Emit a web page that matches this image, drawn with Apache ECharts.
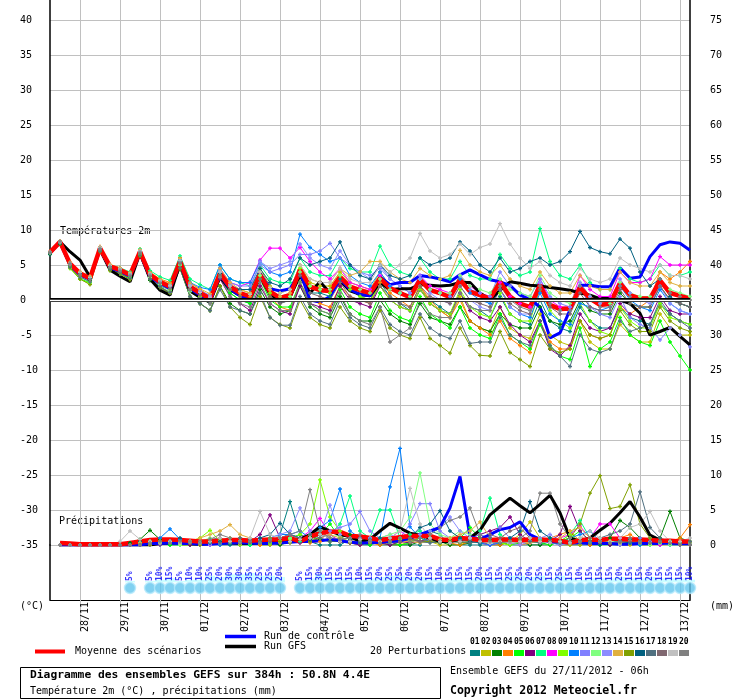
<!DOCTYPE html>
<html>
<head>
<meta charset="utf-8">
<script src="https://cdn.jsdelivr.net/npm/echarts@6/dist/echarts.min.js"></script>
<style>
  html, body { margin: 0; padding: 0; background: #fff; }
  #chart { width: 740px; height: 700px; }
</style>
</head>
<body>
<div id="chart"></div>
<script>
// pas de 6h depuis le 27/11 06h, 65 échéances
var dateLabels = ['28/11','29/11','30/11','01/12','02/12','03/12','04/12','05/12',
  '06/12','07/12','08/12','09/12','10/12','11/12','12/12','13/12'];

// températures 2m (°C)
var tempMean = [6.8,8.3,5.2,3.8,3.1,7.4,4.8,4.3,3.6,6.9, 3.6,2.6,1.9,5.5,1.9,1.0,0.2,3.8,1.9,1.0,
  0.5,3.6,1.2,0.3,0.7,4.3,1.9,1.4,1.3,3.3, 1.9,1.4,1.0,3.1,1.7,1.0,0.4,2.9,1.4,1.0,
  0.4,2.9,1.2,0.7,0.2,2.6,0.5,-0.5,-1.0,2.1, -0.7,-1.3,-1.2,1.8,0.2,-0.7,-0.5,2.4,0.7,0.2,
  0.2,2.8,1.0,0.6,0.2];
var tempControl = [6.8,8.2,5.0,3.6,3.0,7.2,4.6,4.1,3.4,6.7, 3.3,2.4,1.6,5.3,1.6,0.7,-0.2,3.6,1.6,0.6,
  0.1,3.8,1.6,1.3,1.6,4.0,0.0,-0.3,0.5,3.0, 1.5,0.8,0.6,3.3,2.2,2.5,2.5,3.5,3.3,3.0,
  2.6,3.6,4.3,3.6,2.9,2.6,2.1,0.7,0.1,-1.0, -5.4,-4.7,-1.4,2.1,2.1,1.9,1.9,4.6,3.1,3.3,
  6.2,7.9,8.3,8.1,7.1];
var tempGfs = [6.8,8.3,6.9,5.7,3.3,7.2,4.3,3.4,2.6,6.7, 3.0,1.4,0.7,5.2,1.3,0.4,-0.3,3.3,1.5,0.6,
  0.2,3.3,0.9,-0.2,0.5,3.5,1.0,2.6,1.0,2.8, 1.3,0.8,0.6,2.5,1.5,1.6,1.6,2.2,2.1,2.0,
  2.1,2.5,2.5,1.0,0.0,1.4,2.6,2.4,2.1,2.0, 1.8,1.6,1.4,1.0,0.7,0.2,0.2,0.0,-0.5,-1.9,
  -5.0,-4.5,-3.9,-5.2,-6.4];

var t01 = [6.5,8,4.8,3.5,2.8,7,4.5,4,3.2,6.5, 3.2,2,1.5,5,1.5,0.5,-0.5,3,1,0, -0.5,3,0.5,-0.5,0,3.5,1,1,0.5,3,
  1.5,0.5,0,2.5,0.5,-0.5,-1.5,1.5,0,-1, -2,1,-1,-1.5,-2.5,0.5,-2,-3,-3.5,0, -3,-4,-4.5,-1,-3,-4,-4,-1,-2.5,-3, -3.5,-0.5,-2,-3,-3.5];
var t02 = [6.8,8.2,5,3.5,3,7.5,5,4.5,3.8,7, 3.8,2.8,2,6,2.5,1.5,0.5,4,2,1.5, 1,4.5,2,1,1.5,5,2.5,2,2,4,
  2.5,2,1.5,4,2,1,0,2,-0.5,-1.5, -2.5,0.5,-3,-4,-4.5,-1,-4,-5,-5.5,-2, -5,-6,-6.5,-3,-6,-7,-7,-3.5,-5,-6, -6,-2,-4,-5,-5];
var t03 = [6.6,8,5,3.6,2.8,7,4.3,3.8,3,6.3, 2.8,1.8,1,4.5,0.5,-0.5,-1.5,2,-0.5,-1.5, -2,1.5,-1,-2,-1.5,2,-1,-2,-2.5,0.5,
  -2,-3,-3,0,-2,-3,-3.5,-0.5,-2.5,-3, -3.5,-1,-3,-4,-4.5,-2,-3.5,-4,-4,-1, -3,-3.5,-3,0,-1.5,-2,-2,1,-0.5,-1, -1,2,0,-0.5,-1];
var t04 = [6.9,8.4,5.3,4,3.3,7.6,5,4.5,3.8,7.2, 4,3,2.5,6,2.5,1.5,0.5,4,2,1, 0.5,3.5,0.5,-1,-1.5,2.5,0,-0.5,-1,2,
  0.5,0,-0.5,2.5,1,0,-1,2,0,-1.5, -2.5,0,-3,-4,-5,-3,-5.5,-6.5,-7.5,-3, -6,-7,-7,-3,-5,-5.5,-5,-1,-2,-1, 0,4,3,4,5.5];
var t05 = [6.7,8.2,4.8,3,2.5,7,4.5,3.8,3.2,6.5, 3.5,2.5,1.5,5,1.5,0.5,0,3.5,1,0, -0.5,3,0,-1,-1,2.5,-0.5,-1.5,-2,1.5,
  -1,-2,-2.5,1,-1.5,-2.5,-3,0.5,-2,-3, -4,-1,-4,-5,-5.5,-2,-5,-6,-7,-3.5, -6.5,-8,-8.5,-4,-9.5,-7,-6,-2.5,-5,-6, -6.5,-3,-6,-8,-10];
var t06 = [6.8,8.3,5.2,3.8,3,7.2,4.8,4.2,3.5,6.8, 3.5,2.5,1.8,5.3,1.5,0.5,-0.5,3,0.5,-0.5, -1.5,2,-0.5,-1.5,-2,2,-0.5,-1,-1.5,2,
  0,-0.5,-1,2,0,-1,-1.5,1.5,-0.5,-1.5, -2,1,-1.5,-2.5,-3,-1,-3.5,-5,-6,-3, -7,-8,-6.5,-2,-4,-4.5,-4,-0.5,-2,-2.5, -2.5,0.5,-1.5,-2,-2];
var t07 = [6.8,8.3,5.3,4,3.3,7.5,5,4.6,4,7.3, 4.2,3.3,2.8,6.3,3,2.2,1.5,5,3,2.5, 2,5,3,2.5,2.5,6,4,3.5,3.5,6,
  4.5,4,4,7.7,5,4,3.5,6,4,3, 3,5.5,3.5,3,3,6.5,4.5,3.5,4,10.2, 5.5,3.5,3,5,2.5,1.5,1.5,4.5,3,2.5, 3,5,3.5,3.5,4];
var t08 = [6.8,8.3,5.3,4,3.2,7.5,5,4.5,3.8,7, 3.8,2.8,2,5.8,2,1.2,0.5,4.5,2.5,2, 2.5,5.7,7.4,7.4,6,7.5,5.5,4,3,4.5,
  2.5,2,1.5,3.5,2,1,0.5,3.5,2,1.5, 1,3.5,2,1,0.5,2.5,0.5,-0.5,-1,3, 0,-1,-1,3.5,1.5,0.5,0.5,4,2.5,2.5, 3,6.2,5,5,5];
var t09 = [6.7,8.1,4.5,3,2.3,7,4.2,3.8,3,6.5, 3.5,2.5,1.5,5.2,1.5,0.5,0,3.8,1.5,0.5, 0,3.5,1,0,0.5,4.5,2,1.5,1,3.5,
  1.5,0.5,0,2,0,-1,-1.5,1.5,-0.5,-1.5, -2,1.5,-1,-2,-2.5,1,-2,-3,-3,1.5, -1.5,-3,-4,-0.5,-3,-4.5,-5,-1,-3,-4, -4,-0.5,-2.5,-3,-3.5];
var t10 = [6.8,8.3,5.2,3.8,3.2,7.4,4.8,4.4,3.8,7.1, 3.8,2.8,2.2,5.8,2.5,1.8,1.5,5,3,2.5, 2.5,5.5,4,3.5,4,9.4,7.5,6.5,5.5,6,
  3.5,2.5,2,4,2,1,0.5,3,1.5,1, 0.5,3,1,0,-0.5,1.5,-1,-2,-2.5,1, -2,-3,-3.5,-0.5,-1,-1.5,-1,2,0,-1, -1.5,1.5,-0.5,-1.5,-2];
var t11 = [6.8,8.3,5.2,3.9,3.2,7.5,4.9,4.4,3.7,7, 3.7,2.8,2.1,5.7,2.2,1.3,0.7,4.3,2.5,2, 2,5,4,4.5,5,6.5,6.5,7,8.1,6,
  5,4,3.5,4.5,3,2,1,3.5,1.5,1, 0.5,3.5,1.5,1,0.5,4,2,1,0.5,3, 0.5,-0.5,-1,2,-1,-2,-2.5,0.5,-2.5,-3.5, -4,-5.7,-4,-5,-6.7];
var t12 = [6.7,8.2,4.6,3.2,2.6,7.3,4.7,4.2,3.4,6.7, 3.2,2.2,1.3,5,1.2,0.2,-0.5,3.5,1.5,0.5, 0,3.5,1.5,0.5,0.5,4,2,1.5,1.5,3.5,
  2,1.5,1,3,1.5,1,0.5,3,1.5,1, 1,3.5,2,1.5,1,3,1.5,1,0.5,3.5, 1,0,-0.5,2.5,0.5,-0.5,-0.5,2.5,1,0.5, 0.5,3,1.5,1,0.5];
var t13 = [6.8,8.3,5.1,3.8,3.1,7.4,4.8,4.3,3.6,6.9, 3.6,2.7,2,5.6,2,1.1,0.3,4,2.2,1.5, 1.5,5.5,4.5,5,5.5,8,6,5,4.5,7,
  5,4,3,5,3,2,1,3,1,0, -0.5,2,0,-1,-1.5,1.5,-1,-2,-2,2.5, -0.5,-1.5,-1.5,2.5,0.5,-0.5,0,3,1,0, -0.5,2,-0.5,-1.5,-2];
var t14 = [6.9,8.4,5.4,4.1,3.4,7.6,5.1,4.6,3.9,7.2, 3.9,2.9,2.3,5.9,2.4,1.6,0.9,4.5,2.5,1.5, 1,4,1.5,0.5,1,5,3,2.5,2.5,4.5,
  3.5,4,5.5,5.5,4,3,2.5,4.5,3.5,3, 3.5,7.1,5,4,3.5,5,3,2,1.5,4, 2,1,1,3.5,2,1.5,1.5,4,2.5,2, 2,4,2.5,2,2];
var t15 = [6.7,8.1,4.6,3,2.2,6.9,4.2,3.8,2.9,6.3, 3,1.8,1,4.5,0.5,-0.5,-1.5,2,-1,-2.5, -3.5,0.5,-2.5,-3.5,-4,0,-2.5,-3.5,-4,-1,
  -3,-4,-4.5,-1.5,-4,-5,-5.5,-2.5,-5.5,-6.5, -7.6,-4,-6.5,-7.9,-8,-4.5,-7.5,-8.5,-9.5,-5, -7,-7.5,-7,-3,-5,-5.5,-5,-1.5,-3.5,-4.5, -4.5,-1,-3,-4,-4.5];
var t16 = [6.8,8.3,5.2,3.8,3.1,7.4,4.8,4.3,3.6,6.9, 3.6,2.6,1.9,5.5,1.9,1,0.2,3.8,2,1.5, 1.5,4.5,2.5,2,3,6,5,5.5,6,8.3,
  5,3.5,3,5,3.5,3,3.5,6,5,5.5, 6,8.3,7,5,4,6,4,4.5,5.5,6, 5,5.5,6.9,9.8,7.5,6.9,6.6,8.7,7.4,4, 2,3,0.5,-0.5,-1];
var t17 = [6.7,8.1,4.7,3.3,2.6,7,4.4,3.9,3.1,6.4, 3,1.9,1.1,4.6,0.5,-0.5,-1.5,1.5,-1,-1.5, -2,1,-2.5,-3.6,-3.6,0.5,-2,-3,-3.5,0,
  -2.5,-3.5,-4,-1,-3.5,-4.5,-5,-2,-4,-5, -5.5,-3,-6.2,-6,-6,-2.5,-5,-6,-6.5,-3, -6.5,-8,-9.5,-5,-7,-7.5,-7,-3,-4.5,-4, -3.5,0,-2,-3,-4];
var t18 = [6.8,8.2,5,3.6,2.9,7.2,4.6,4.1,3.4,6.7, 3.4,2.4,1.7,5.2,1.6,0.7,0,3.5,1.5,0.5, 0,3,0.5,-0.5,0,3.5,1,0.5,0,2.5,
  0.5,0,-0.5,2,0.5,-0.5,-1,2,0.5,0, -0.5,2,0,-0.5,-1,1.5,-0.5,-1.5,-2,1.5, -1,-2,-2,1,-1,-1.5,-1.5,1.5,-0.5,-1, -1,2,0,-0.5,-1];
var t19 = [6.8,8.3,5.2,3.9,3.2,7.5,4.9,4.4,3.7,7, 3.7,2.7,2,5.6,2,1.1,0.4,4,2,1.2, 0.8,4,1.8,1,1.5,5,3,2.5,2.5,4.5,
  3,2.5,2.5,5,4,5,6,9.5,7,6, 6.5,8,6.5,7.5,8,10.9,8,6,4.5,5.5, 3.5,2.5,2,4.5,3,2.5,3,6,5,4.5, 4,5,3.5,3.5,3];
var t20 = [6.8,8.4,5.2,3.6,2.9,7.3,4.7,4.2,3.5,6.8, 3.5,2.4,1.6,5.3,1.4,0.3,-0.5,3.2,0.5,-0.5, -1,2.5,-0.5,-1.5,-1.5,2.5,-0.5,-1.5,-2,1,
  -2,-3,-3.5,-1,-6,-5,-4,0,-2,-2.5, -2.5,1,-1,-1.5,-1.5,2,0,-1,-1.5,2, -0.5,-1.5,-1.5,2,0,-1,-1,2,0.5,0, 0,3,1,0.5,0];

// précipitations (mm / 6h)
var precMean = [null,0.3,0.2,0.1,0.1,0.1,0.1,0.1,0.3,0.5, 0.7,0.8,0.8,0.7,0.6,0.5,0.5,0.6,0.7,0.7,
  0.6,0.7,0.8,0.8,1,0.5,1.2,1.7,1.9,1.9, 1.3,1.2,1,0.7,0.9,1.1,1.3,1.3,1.3,0.8,
  0.7,1,0.9,0.7,0.7,0.8,0.8,0.7,0.8,0.8, 0.7,0.6,0.3,0.7,0.8,0.7,0.9,0.9,0.8,0.8, 0.7,0.6,0.6,0.5,0.5];
var precControl = [null,0,0,0,0,0,0,0,0,0, 0.2,0.2,0.3,0.2,0.2,0.1,0.1,0.2,0.3,0.3,
  0.3,0.2,0.2,0.3,0.4,0.5,0.5,0.6,0.8,0.6, 0.4,0.3,0.3,0.4,0.5,0.6,1,1.5,2,2.5,
  5.3,9.8,1.2,0.8,1.5,2.2,2.5,3.3,1.5,0.8, 0.5,0.4,0.3,0.3,0.2,0.2,0.2,0.1,0.1,0.2, 0.2,0.2,0.3,0.2,0.2];
var precGfs = [null,0,0,0,0,0,0,0,0,0, 0,0.2,0.3,0.3,0.2,0.1,0.2,0.3,0.3,0.2,
  0.2,0.3,0.3,0.5,0.5,0.8,1.5,2.6,2,1.5, 1.2,0.5,0.8,2,3.1,2.4,1.7,1.4,1,0.5,
  0.5,0.8,1,2.1,4.3,5.5,6.7,5.6,4.6,5.8, 7.1,4.6,1,0.5,1,2.1,3.1,4.6,6.2,4, 1.4,0.7,0.3,0.3,0.3];

var p01 = [null,0,0,0,0,0,0,0,0.3,0.5, 0.5,0.3,0,0,0,0,0.5,0,0,0, 0.8,0,0,1.5,6.2,1.5,0.5,0,0,0, 0.8,0,0,1,0,0,0,0,2,1.5, 0,0,0,0,0,0.5,0,0,0,0, 0.5,0,0,0,0,1,0,0,0.8,0, 0,0.5,0,0,0];
var p02 = [null,0,0,0,0,0,0,0,0,0.3, 0.5,0.5,0.3,0,0,0,0,0.5,1,0.5, 0.3,0,0,0.5,1,0.8,0.5,1.5,1,0.5, 0.3,0,0.5,0.5,0,0,0.5,1,0.5,0, 0,0,0.5,1,0.5,0,0.5,1.5,3.3,1, 0.5,0,0,0,0.5,1,0.5,0,0,0.5, 0,0,0,0.3,0];
var p03 = [null,0,0,0,0,0,0,0,0.3,0.8, 2.1,0.8,0.5,0.3,0,0,0.3,0.5,0.5,0.3, 0,0.5,0.3,0,0.5,1,1.2,0.8,0.5,1, 1.5,0.8,0.5,0,0,0,0,0.5,1,0.5, 0,0,0.3,0.5,0,0,0.5,0.5,0,0, 0,0.5,1,0.5,0,0,1,3.5,2.5,1, 0.5,1,4.8,1,0.5];
var p04 = [null,0,0,0,0,0,0,0,0,0, 0.3,0.5,0.3,0,0,0.5,0.3,0,0.5,1, 0.5,0,0.3,0.5,1,0.8,0.3,0.5,1,0.5, 0.3,0.5,0.3,0,0.5,0.3,0.8,1,1.5,0.5, 0.3,0,0.5,0.3,0,0,0.5,0,0.3,0.5, 1,1.5,2,0.5,0,0.3,0.5,1,1.5,0.5, 0.3,0,0.5,1,2.9];
var p05 = [null,0,0,0,0,0,0,0,0,0.3, 0.5,0.3,0,0,0,0,0.3,0.5,0.3,0, 0,0.3,0.5,0.5,1,1.5,1,1.5,3,1, 0.5,0.3,0,0.5,0.5,0,0.3,1,0.5,0.3, 0.5,1,2.5,1,0.5,0.3,0,0.3,0.5,0.3, 0,0.5,1,2,0.5,0,0,0.3,0.5,0.3, 0,0.3,0.5,0,0];
var p06 = [null,0,0,0,0,0,0,0,0,0, 0.3,0.3,0.5,0.3,0,0,0.3,0.5,0.5,0.3, 0.5,1.5,4.3,1,0.5,0.3,0.5,1,1.5,0.5, 0.3,0,0.5,0.3,0,0.5,0.3,0.5,1,0.5, 0.3,0.5,1,1.5,2,2.5,4,1.5,0.5,0.3, 0.5,1.5,5.5,2,0.5,0.3,0,0.5,0.3,0, 0,0.3,0,0,0];
var p07 = [null,0,0,0,0,0,0,0,0,0, 0,0.3,0.5,0.3,0.3,0,0,0.3,0.5,0.3, 0,0.5,0.3,0.5,1,0.5,1,2,1.5,3, 7,2,1,5,5,1,1.5,2,1,0.5, 0.3,0.5,1,2,6.7,1.5,0.5,0.3,0.5,0.8, 1,0.5,1.5,3.5,1,0.5,0.3,0.5,0.3,0, 0.3,0,0.5,0,0.3];
var p08 = [null,0,0,0,0,0,0,0,0,0, 0,0,0.3,0.5,0.3,0,0,0.3,0.3,0, 0.3,0.5,0.5,1,1.5,1,2,3.8,1.5,0.5, 0.5,1,0.8,0.5,1,2,1,0.5,0.5,0.3, 0.5,0.3,0.5,0.3,0,0.3,0.5,0.3,0.5,0.3, 0.5,1,1.5,2.7,1,3,3,1,0.5,0.3, 0.3,0,0.3,0,0];
var p09 = [null,0,0,0,0,0,0,0,0,0, 0.3,0.5,0.3,0,0.5,1,2.1,0.5,0.3,0, 0.3,0.5,0.3,0.5,0.8,1.5,3,9.3,4,2, 1,0.5,0.5,0.3,0.5,0.8,0.5,1,0.5,0.3, 0.5,0.3,0.5,0.3,0.5,0.3,0,0.5,1,0.5, 0.3,0.5,1.5,0.5,0.3,0,0.3,0.5,0.3,0, 0,0.3,0,0.3,0];
var p10 = [null,0,0,0,0,0,0,0,0,0.3, 0.5,1,2.3,0.8,0.3,0.5,0.3,0,0.3,0.5, 0.3,0.5,1,1.5,1.5,2,1,2.5,3.5,8, 2,1,0.5,1,8.3,13.8,2.6,1,0.5,0.3, 0.5,0.8,0.5,0.3,0,0.3,0.5,1,0.5,0.3, 0.5,0.3,1,1.5,2,0.5,0.3,0.5,0.3,0, 0.3,0.5,0,0,0.3];
var p11 = [null,0,0,0,0,0,0,0,0,0, 0,0.3,0.5,0.3,0.5,0.3,0,0.3,0.5,0.5, 0.3,0.5,0.8,1,1.5,1,1.5,1,2,2.5, 3,4.8,2,1,1.5,1,3,5.9,5.9,2, 1,0.5,1,1.5,1,2.5,1,0.5,0.3,0.5, 0.3,0,0.3,0.5,1,0.5,0.3,0.3,0.5,1, 0.5,0.3,0.5,0.3,0];
var p12 = [null,0,0,0,0,0,0,0,0,0, 0.3,0.5,0.3,0,0.3,0.5,1,0.5,0.3,0.5, 0.5,0.3,0.5,0.5,1,1,1.5,2,1,1.5, 1,0.5,0.5,1,1.5,2,4,10.3,3,1.5, 1,2,1.5,0.5,0.5,0.3,0.5,0.8,0.5,0.3, 0.5,0.3,0.5,1,0.8,0.5,0.5,0.3,0.5,0.3, 0,0.3,0,0,0];
var p13 = [null,0,0,0,0,0,0,0,0,0, 0.3,0.3,0.5,0.5,0.3,0,0.3,0.5,0.5,0.3, 0.5,0.8,1,1.5,2,5.3,2,1.5,5.7,1.5, 1,0.5,1,0.5,0.5,1,1,1.5,2,2.5, 4,2,1,0.5,0.3,0.5,0.3,0,0.5,1, 1.5,0.5,0.3,0.5,1,0.5,0.3,0,0.3,0.5, 1,0.5,0.3,0,0];
var p14 = [null,0,0,0,0,0,0,0,0,0.3, 0.5,0.3,0.5,0.3,0.5,1,1.5,2,2.9,1.5, 1,0.5,0.5,0.3,0.5,1,0.5,1,1.5,1, 0.5,0.3,0.5,0.5,1,0.5,0.5,0.3,0.5,0.8, 1,1.5,2,3.3,1,0.5,0.3,0.5,0.3,0.5, 0.5,1,2,2.5,1,0.5,0.3,0.3,0.5,0.5, 0.3,0.5,0.3,0.5,0.3];
var p15 = [null,0,0,0,0,0,0,0,0,0, 0,0.3,0.3,0.5,0.3,0,0.5,0.8,0.5,0.3, 0.3,0.5,1,0.5,0.3,1,0.5,1,0.5,0.5, 0.3,0.5,0.3,0.5,0.5,1,0.8,0.5,0.5,0.3, 0.5,0.3,0.5,1,0.5,0.3,0.5,0.8,1,0.5, 0.3,0.5,1,3,7.4,9.9,5.2,5.5,8.6,3, 1,0.5,0.5,0.3,0.5];
var p16 = [null,0,0,0,0,0,0,0,0,0, 0.3,0.5,0.5,1,0.5,0.3,0.3,0.5,0.3,0.5, 0.5,1,1.5,3.1,1.5,1,0.8,1.5,1,0.5, 0.5,0.3,0.5,1,1,0.5,1,2.5,3,4.9, 2,1,0.5,0.3,0.5,0.3,1,2,6.2,2, 1,0.5,0.3,0.5,0.3,0,0.3,0.5,0.3,0.5, 0.3,0.5,0.3,0,0];
var p17 = [null,0,0,0,0,0,0,0,0,0, 0.3,0,0.3,0.5,0.3,0.3,0.5,0.3,0.5,1, 0.8,0.5,0.5,1,1.5,1,1.5,1,0.5,0.8, 1,0.5,0.8,0.5,0.3,0.5,1,0.5,0.3,0.5, 0.3,0.5,0.3,0.5,1,0.5,0.3,0.5,0.5,0.3, 0.5,0.3,0.5,0.3,0.5,1,1.5,2,3,7.6, 2.5,1,0.5,0.3,0.5];
var p18 = [null,0,0,0,0,0,0,0,0,0, 0.3,0.5,0.3,0.5,0.3,0.5,0.8,1,0.5,0.3, 0.5,0.3,0.5,1,1.5,0.8,1,1.5,1,0.5, 0.5,1,0.5,0.3,0.5,0.5,1,0.5,0.8,0.5, 0.3,0.5,0.8,1,1.5,1,2,2.5,1,0.5, 0.3,0.5,0.3,0.5,1,0.5,0.3,0.5,0.5,0.3, 0.3,0.5,0.3,0,0];
var p19 = [null,0,0,0,0,0,0,0.5,2,0.8, 0.5,0.3,0.5,0.3,0.5,0.3,0.5,1,0.5,0.5, 1,4.8,1.5,1,0.5,0.8,1,1.5,1,0.5, 0.5,0.8,0.5,0.5,1,2,8.1,3,1,0.5, 0.3,0.5,1,0.5,0.3,0.5,0.3,0.5,1,0.5, 0.3,0.5,0.3,1,2,1,0.5,1,2.5,3, 4.8,2,0.5,0.5,1];
var p20 = [null,0,0,0,0,0,0,0,0,0, 0.3,0.5,0.3,0.5,0.5,0.3,0.8,1.5,1,0.5, 0.5,0.3,0.8,1,1.5,2,7.9,2,1,0.8, 1,1.5,0.5,0.3,0.5,1,0.5,1,1.5,2.5, 3.5,4,5.3,1.5,0.5,0.3,0.5,1,2,7.4, 7.4,3,1,0.5,0.3,0.5,0.3,0.5,1,0.5, 0.3,0.5,0.3,0,0];

// probabilité de précipitations (%)
var rainProb = [null,null,null,null,null,null,null,null,5,null, 5,10,15,5,10,10,25,20,30,30,
  35,25,25,20,null,5,15,30,15,15, 15,10,15,20,25,25,20,20,15,10,
  15,15,15,20,15,15,25,25,20,25, 15,25,15,10,15,15,15,20,15,15, 20,15,15,15,10];

var memberNames = ['01','02','03','04','05','06','07','08','09','10',
  '11','12','13','14','15','16','17','18','19','20'];
var memberColors = ['#008080','#c0c000','#008000','#ff8000','#00ff00','#800080','#00ff80','#ff00ff','#80ff00','#0080ff',
  '#8080ff','#80ff80','#8c8cff','#e0b040','#80a000','#006080','#507080','#806870','#c0c0c0','#808080'];
var tempMembers = [t01,t02,t03,t04,t05,t06,t07,t08,t09,t10,t11,t12,t13,t14,t15,t16,t17,t18,t19,t20];
var precMembers = [p01,p02,p03,p04,p05,p06,p07,p08,p09,p10,p11,p12,p13,p14,p15,p16,p17,p18,p19,p20];

var steps = [];
for (var i = 0; i < tempMean.length; i++) steps.push(i * 6);

var MONO = 'DejaVu Sans Mono';
var GRID_GRAY = '#c0c0c0';
var PLUS = 'path://M1,0H2V1H3V2H2V3H1V2H0V1H1Z';

function isMidnight(idx) { return idx % 4 === 3; }

var chart = echarts.init(document.getElementById('chart'));

var series = [];

// double trait du 0°C
series.push({
  name: 'zero', type: 'line', xAxisIndex: 0, yAxisIndex: 0,
  data: steps.map(function () { return null; }),
  symbol: 'none', silent: true,
  markLine: {
    silent: true, symbol: ['none', 'none'], label: { show: false },
    data: [
      { yAxis: 0, lineStyle: { color: '#000', width: 4, type: 'solid' } },
      { yAxis: 0, lineStyle: { color: '#fff', width: 1.4, type: 'solid' } }
    ]
  }
});

precMembers.forEach(function (d, k) {
  series.push({
    name: 'p' + memberNames[k], type: 'line', xAxisIndex: 0, yAxisIndex: 1, data: d,
    symbol: PLUS, symbolSize: 4, showAllSymbol: true,
    lineStyle: { width: 1, color: memberColors[k] }, itemStyle: { color: memberColors[k] }
  });
});
tempMembers.forEach(function (d, k) {
  series.push({
    name: 't' + memberNames[k], type: 'line', xAxisIndex: 0, yAxisIndex: 0, data: d,
    symbol: PLUS, symbolSize: 4, showAllSymbol: true,
    lineStyle: { width: 1, color: memberColors[k] }, itemStyle: { color: memberColors[k] }
  });
});

function thick(name, data, yIdx, color, w) {
  return {
    name: name, type: 'line', xAxisIndex: 0, yAxisIndex: yIdx, data: data,
    symbol: 'none', lineStyle: { width: w, color: color }, itemStyle: { color: color }
  };
}
series.push(thick('gfsP', precGfs, 1, '#000', 3));
series.push(thick('gfsT', tempGfs, 0, '#000', 3));
series.push(thick('ctrlP', precControl, 1, '#0000ff', 3));
series.push(thick('ctrlT', tempControl, 0, '#0000ff', 3));
series.push(thick('meanP', precMean, 1, '#ff0000', 4.5));
series.push(thick('meanT', tempMean, 0, '#ff0000', 4.5));

// rangée des probabilités (bande cyan, pastilles, pourcentages)
var DOT_LEVEL = -21;
var TEXT_LEVEL = 5;
series.push({
  name: 'probBar', type: 'bar', xAxisIndex: 1, yAxisIndex: 2, data: rainProb,
  barWidth: 10, itemStyle: { color: '#ccffff' }, silent: true
});
series.push({
  name: 'probDot', type: 'scatter', xAxisIndex: 1, yAxisIndex: 2,
  data: rainProb.map(function (p) { return p == null ? null : DOT_LEVEL; }),
  symbol: 'circle', symbolSize: 11, silent: true,
  itemStyle: { color: '#62c6ee', borderColor: '#b4e8fb', borderWidth: 1.5 }
});
series.push({
  name: 'probTxt', type: 'scatter', xAxisIndex: 1, yAxisIndex: 2,
  data: rainProb.map(function (p) { return p == null ? null : TEXT_LEVEL; }),
  symbolSize: 1, itemStyle: { color: 'transparent' }, silent: true,
  label: {
    show: true, position: 'inside', rotate: 90, align: 'left', verticalAlign: 'middle',
    fontFamily: MONO, fontSize: 8, fontWeight: 'bold', color: '#0000ff',
    formatter: function (p) { return rainProb[p.dataIndex] + '%'; }
  }
});

// légende et cartouche
var graphics = [
  { type: 'text', left: 60, top: 226, style: { text: 'Températures 2m', font: '10px ' + MONO, fill: '#000' } },
  { type: 'text', left: 59, top: 516, style: { text: 'Précipitations', font: '10px ' + MONO, fill: '#000' } },
  { type: 'text', left: 20, top: 601, style: { text: '(°C)', font: '10px ' + MONO, fill: '#000' } },
  { type: 'text', left: 710, top: 601, style: { text: '(mm)', font: '10px ' + MONO, fill: '#000' } },
  { type: 'line', shape: { x1: 35, y1: 651.5, x2: 65, y2: 651.5 }, style: { stroke: '#ff0000', lineWidth: 4 } },
  { type: 'text', left: 75, top: 646, style: { text: 'Moyenne des scénarios', font: '10px ' + MONO, fill: '#000' } },
  { type: 'line', shape: { x1: 225, y1: 636.5, x2: 256, y2: 636.5 }, style: { stroke: '#0000ff', lineWidth: 3.5 } },
  { type: 'text', left: 264, top: 631, style: { text: 'Run de contrôle', font: '10px ' + MONO, fill: '#000' } },
  { type: 'line', shape: { x1: 225, y1: 646.5, x2: 256, y2: 646.5 }, style: { stroke: '#000', lineWidth: 3.5 } },
  { type: 'text', left: 264, top: 641, style: { text: 'Run GFS', font: '10px ' + MONO, fill: '#000' } },
  { type: 'text', left: 370, top: 646, style: { text: '20 Perturbations', font: '10px ' + MONO, fill: '#000' } },
  { type: 'rect', shape: { x: 20.5, y: 667.5, width: 420, height: 31 }, style: { fill: '#fff', stroke: '#000', lineWidth: 1 } },
  { type: 'text', left: 30, top: 670, style: { text: 'Diagramme des ensembles GEFS sur 384h : 50.8N 4.4E', font: 'bold 11.3px ' + MONO, fill: '#000' } },
  { type: 'text', left: 30, top: 686, style: { text: 'Température 2m (°C) , précipitations (mm)', font: '10px ' + MONO, fill: '#000' } },
  { type: 'text', left: 450, top: 666, style: { text: 'Ensemble GEFS du 27/11/2012 - 06h', font: '10px ' + MONO, fill: '#000' } },
  { type: 'text', left: 450, top: 685, style: { text: 'Copyright 2012 Meteociel.fr', font: 'bold 11.5px ' + MONO, fill: '#000' } }
];
memberNames.forEach(function (n, k) {
  var x = 470 + k * 11;
  graphics.push({ type: 'rect', shape: { x: x, y: 650, width: 10, height: 6 }, style: { fill: memberColors[k] } });
  graphics.push({ type: 'text', left: x, top: 638, style: { text: n, font: 'bold 8px ' + MONO, fill: '#000' } });
});

var option = {
  animation: false,
  backgroundColor: '#fff',
  grid: [
    { left: 50, right: 50, top: 0, height: 545 },
    { left: 50, right: 50, top: 545, height: 55 }
  ],
  xAxis: [
    {
      gridIndex: 0, type: 'category', data: steps, boundaryGap: false,
      axisLine: { show: false, onZero: false }, axisTick: { show: false }, axisLabel: { show: false },
      splitLine: { show: true, interval: isMidnight, lineStyle: { color: GRID_GRAY, width: 1 } }
    },
    {
      gridIndex: 1, type: 'category', data: steps, boundaryGap: false,
      axisLine: { show: true, onZero: false, lineStyle: { color: '#000', width: 1 } },
      axisTick: { show: true, interval: isMidnight, length: 30, lineStyle: { color: GRID_GRAY } },
      splitLine: { show: true, interval: isMidnight, lineStyle: { color: GRID_GRAY, width: 1 } },
      axisLabel: {
        interval: isMidnight, rotate: 90, margin: 2, verticalAlign: 'top',
        fontFamily: MONO, fontSize: 10, color: '#000',
        formatter: function (v) { return dateLabels[(v / 6 - 3) / 4]; }
      }
    }
  ],
  yAxis: [
    {
      gridIndex: 0, type: 'value', min: -35, max: 40 + 20 / 7, interval: 5,
      axisLine: { show: true, lineStyle: { color: '#000', width: 1.5 } }, axisTick: { show: false },
      axisLabel: {
        align: 'left', margin: 30, fontFamily: MONO, fontSize: 10, color: '#000',
        formatter: function (v) { return v % 5 === 0 ? String(v) : ''; }
      },
      splitLine: { show: true, showMaxLine: false, lineStyle: { color: GRID_GRAY, width: 1 } }
    },
    {
      gridIndex: 0, type: 'value', position: 'right', min: 0, max: 75 + 20 / 7, interval: 5,
      axisLine: { show: true, lineStyle: { color: '#000', width: 1.5 } }, axisTick: { show: false },
      axisLabel: {
        align: 'left', margin: 20, fontFamily: MONO, fontSize: 10, color: '#000',
        formatter: function (v) { return v % 5 === 0 ? String(v) : ''; }
      },
      splitLine: { show: false }
    },
    {
      gridIndex: 1, type: 'value', min: -66, max: 140,
      axisLine: { show: true, lineStyle: { color: '#000', width: 1.5 } }, axisTick: { show: false },
      axisLabel: { show: false }, splitLine: { show: false }
    },
    {
      gridIndex: 1, type: 'value', position: 'right', min: -66, max: 140,
      axisLine: { show: true, lineStyle: { color: '#000', width: 1.5 } }, axisTick: { show: false },
      axisLabel: { show: false }, splitLine: { show: false }
    }
  ],
  series: series,
  graphic: graphics
};

chart.setOption(option);
</script>
</body>
</html>
